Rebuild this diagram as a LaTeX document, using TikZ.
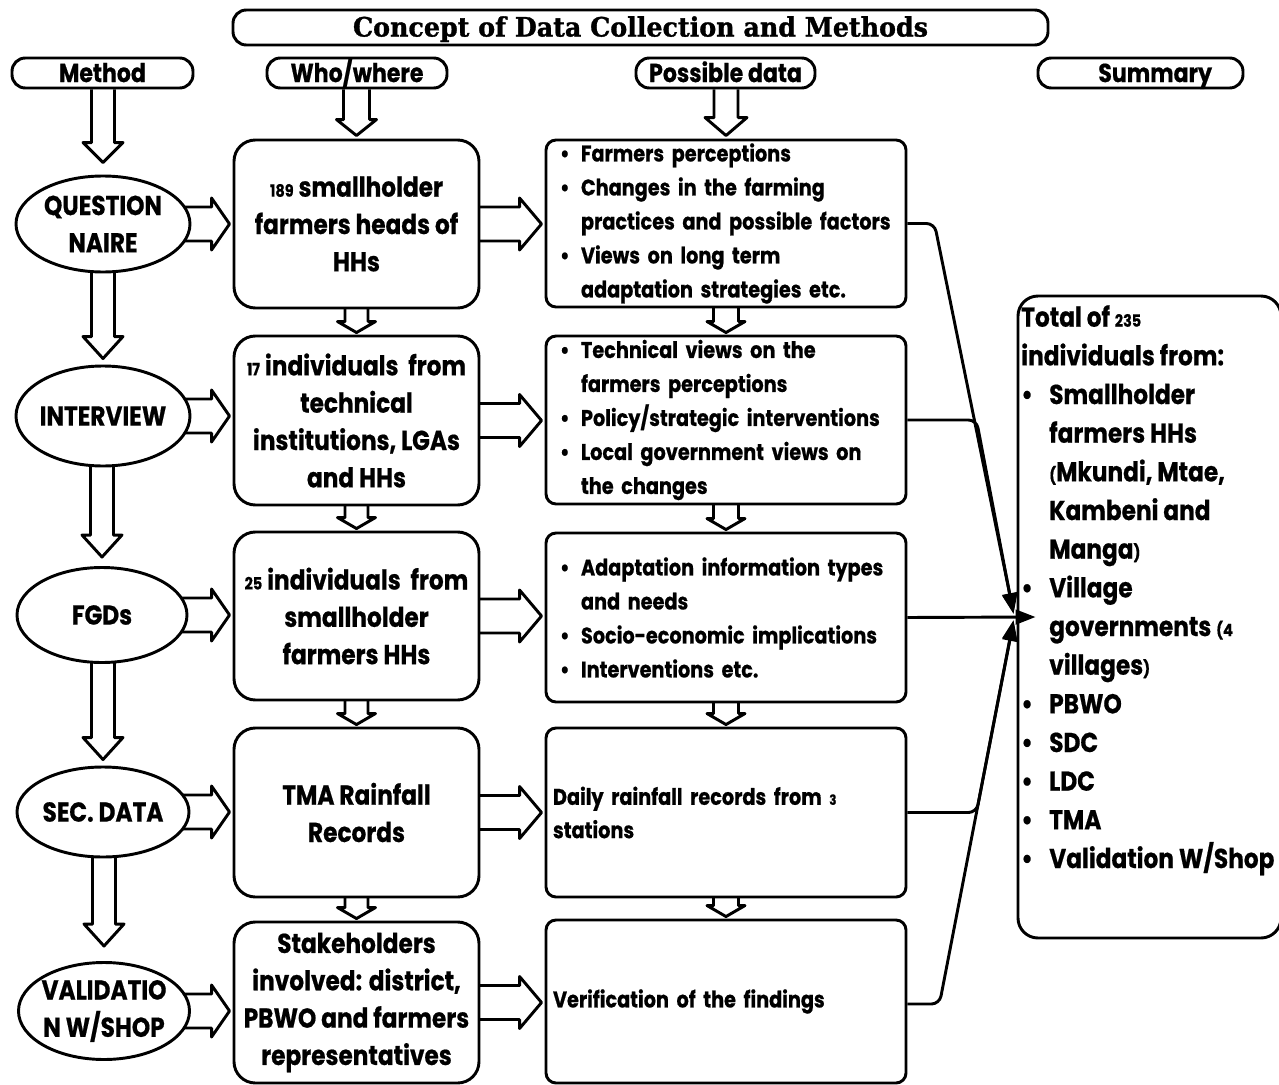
\documentclass[tikz,border=0pt]{standalone}
\usepackage{fontspec}
\usepackage{graphicx}
\usetikzlibrary{calc,arrows.meta,shapes.geometric,backgrounds}
\setmainfont{Poppins}[FakeStretch=0.85,BoldFeatures={FakeBold=0.6}]
\newfontfamily\condf{Poppins}[FakeStretch=0.85,BoldFeatures={FakeBold=0.6}]
\newfontfamily\slabf{DejaVu Serif}[FakeStretch=0.95,BoldFeatures={FakeBold=1.2}]
\newcommand\sm[1]{\scalebox{0.62}{#1}}
\newcommand\bul{\makebox[15.75pt][l]{•}}
\newcommand\ind{\hspace*{15.75pt}}
\newcommand\bulS{\makebox[21pt][l]{•}}
\newcommand\indS{\hspace*{21pt}}
\newcommand\vblk[5]{\draw[blk] let \p1=(#1), \p2=(#2) in (\x2-#3*0.75pt,\y1) -- (\x2-#3*0.75pt,\y2+#5*0.75pt) -- (\x2-#4*0.75pt,\y2+#5*0.75pt) -- (\x2,\y2) -- (\x2+#4*0.75pt,\y2+#5*0.75pt) -- (\x2+#3*0.75pt,\y2+#5*0.75pt) -- (\x2+#3*0.75pt,\y1);}
\newcommand\hblk[5]{\draw[blk] let \p1=(#1), \p2=(#2) in (\x1,\y1+#3*0.75pt) -- (\x2-#5*0.75pt,\y1+#3*0.75pt) -- (\x2-#5*0.75pt,\y1+#4*0.75pt) -- (\x2,\y1) -- (\x2-#5*0.75pt,\y1-#4*0.75pt) -- (\x2-#5*0.75pt,\y1-#3*0.75pt) -- (\x1,\y1-#3*0.75pt);}
\begin{document}
\begin{tikzpicture}[x=0.75pt,y=-0.75pt,
  lw/.style={line width=2.2pt},
  blk/.style={draw,lw,fill=white,line join=round},
  titlebox/.style={draw,lw,fill=white,rounded corners=10pt,inner sep=0pt,text height=15pt,text depth=1.5pt,font=\slabf\bfseries\fontsize{20}{22}\selectfont},
  hdr/.style={draw,lw,fill=white,rounded corners=10pt,minimum height=22.5pt,inner sep=0pt,text height=16pt,text depth=2.4pt,font=\bfseries\fontsize{19.5}{21}\selectfont},
  ell/.style={draw,lw,fill=white,ellipse,inner sep=0pt},
  elltxt/.style={align=center,inner sep=0pt,font=\bfseries\fontsize{20.5}{28}\selectfont},
  bbox/.style={draw,lw,fill=white,rounded corners=16pt,inner sep=0pt,align=center,minimum width=245*0.75pt,font=\bfseries\fontsize{20.5}{28}\selectfont},
  cbox/.style={draw,lw,fill=white,rounded corners=7.5pt,inner sep=0pt,align=left,minimum width=360*0.75pt,text width=332*0.75pt,font=\bfseries\fontsize{17}{25.5}\selectfont},
  conn/.style={lw,rounded corners=6pt,-{Triangle[length=15pt,width=11pt]}}
]
\useasboundingbox (0,0) rectangle (1279,1085);
% title and headers
\node[titlebox,minimum width=815*0.75pt,minimum height=35*0.75pt] (title) at (640.5,27.5) {Concept of Data Collection and Methods};
\node[hdr,minimum width=181*0.75pt] (hm) at (102.5,73) {Method};
\node[hdr,minimum width=180*0.75pt] (hw) at (357,73) {Who/where};
\node[hdr,minimum width=179*0.75pt] (hp) at (725.5,73) {Possible data};
\node[hdr,minimum width=205*0.75pt] (hs) at (1140.5,73) {\hspace*{22pt}Summary};
% ellipses
\node[ell,minimum width=174*0.75pt,minimum height=96*0.75pt] (e1) at (103,224) {};
\node[elltxt] (e1t) at (e1) {QUESTION\\NAIRE};
\node[ell,minimum width=174*0.75pt,minimum height=100*0.75pt] (e2) at (103,416) {};
\node[elltxt] (e2t) at (e2) {INTERVIEW};
\node[ell,minimum width=170*0.75pt,minimum height=95*0.75pt] (e3) at (102,615) {};
\node[elltxt] (e3t) at (e3) {FGDs};
\node[ell,minimum width=172*0.75pt,minimum height=90*0.75pt] (e4) at (103,812) {};
\node[elltxt] (e4t) at (e4) {SEC. DATA};
\node[ell,minimum width=171*0.75pt,minimum height=97*0.75pt] (e5) at (104,1011) {};
\node[elltxt] (e5t) at (e5) {VALIDATIO\\N W/SHOP};
% who/where boxes
\node[bbox,minimum height=168*0.75pt] (b1) at (356.5,224) {\sm{189} smallholder\\farmers heads of\\HHs};
\node[bbox,minimum height=169*0.75pt] (b2) at (356.5,420.5) {\sm{17} individuals\ \ from\\technical\\institutions, LGAs\\and HHs};
\node[bbox,minimum height=168*0.75pt] (b3) at (356.5,616) {\sm{25} individuals\ \ from\\smallholder\\farmers HHs};
\node[bbox,minimum height=169*0.75pt,font=\condf\bfseries\fontsize{20.5}{28}\selectfont] (b4) at (356.5,812.5) {TMA Rainfall\\Records};
\node[bbox,minimum height=161*0.75pt] (b5) at (356.5,1002.5) {Stakeholders\\involved: district,\\PBWO and farmers\\representatives};
% possible data boxes
\node[cbox,minimum height=167*0.75pt] (c1) at (726,223.5) {\bul Farmers perceptions\\\bul Changes in the farming\\\ind practices and possible factors\\\bul Views on long term\\\ind adaptation strategies etc.};
\node[cbox,minimum height=168*0.75pt] (c2) at (726,420) {\bul Technical views on the\\\ind farmers perceptions\\\bul Policy/strategic interventions\\\bul Local government views on\\\ind the changes};
\node[cbox,minimum height=169*0.75pt] (c3) at (726,617.5) {\bul Adaptation information types\\\ind and needs\\\bul Socio-economic implications\\\bul Interventions etc.};
\node[cbox,minimum height=169*0.75pt,text width=346*0.75pt,font=\condf\bfseries\fontsize{17}{25}\selectfont] (c4) at (726,812.5) {Daily rainfall records from \sm{3}\\stations};
\node[cbox,minimum height=163*0.75pt,text width=346*0.75pt,font=\condf\bfseries\fontsize{17}{25}\selectfont] (c5) at (726,1001.5) {Verification of the findings};
% summary
\node[draw,lw,fill=white,rounded corners=15pt,minimum width=263*0.75pt,minimum height=642*0.75pt,inner sep=0pt] (sum) at (1149.5,617) {};
\node[anchor=north west,align=left,inner sep=0pt,font=\bfseries\fontsize{20.5}{29}\selectfont] (sumt) at (1021,305) {Total of \sm{235}\\individuals from:\\\bulS Smallholder\\\indS farmers HHs\\\indS \sm{(}Mkundi, Mtae,\\\indS Kambeni and\\\indS Manga\sm{)}\\\bulS Village\\\indS governments \sm{(4}\\\indS villages\sm{)}\\\bulS PBWO\\\bulS SDC\\\bulS LDC\\\bulS TMA\\\bulS Validation W/Shop};
% block arrows
\begin{scope}[on background layer]
\vblk{hm.south}{$(e1.north)+(0,-12)$}{11.5}{20}{20}
\vblk{e1.center}{$(e2.north)+(0,-6)$}{11.5}{20}{22}
\vblk{e2.center}{$(e3.north)+(0,-9)$}{11.5}{20}{22}
\vblk{e3.center}{$(e4.north)+(0,-6)$}{11.5}{20}{22}
\vblk{e4.center}{$(e5.north)+(0,-15)$}{11.5}{20}{22}
\vblk{hw.south}{$(b1.north)+(0,-3)$}{13}{20}{16}
\vblk{b1.center}{$(b2.north)+(0,-2)$}{11.5}{19}{11}
\vblk{b2.center}{$(b3.north)+(0,-2)$}{11.5}{19}{11}
\vblk{b3.center}{$(b4.north)+(0,-2)$}{11.5}{19}{11}
\vblk{b4.center}{$(b5.north)+(0,-2)$}{11.5}{19}{11}
\vblk{hp.south}{$(c1.north)+(0,-3)$}{12}{21}{18}
\vblk{c1.center}{$(c2.north)+(0,-2)$}{12.5}{19}{11}
\vblk{c2.center}{$(c3.north)+(0,-2)$}{12.5}{19}{11}
\vblk{c3.center}{$(c4.north)+(0,-2)$}{12.5}{19}{11}
\vblk{c4.center}{$(c5.north)+(0,-2)$}{12.5}{19}{11}
\hblk{e1.center}{$(b1.west)+(-3,0)$}{17}{26}{18}
\hblk{e2.center}{$(b2.west)+(-3,0)$}{17}{26}{18}
\hblk{e3.center}{$(b3.west)+(-3,0)$}{17}{26}{18}
\hblk{e4.center}{$(b4.west)+(-3,0)$}{17}{26}{18}
\hblk{e5.center}{$(b5.west)+(-3,0)$}{17}{26}{18}
\hblk{b1.center}{$(c1.west)+(-3,0)$}{17}{26}{22}
\hblk{b2.center}{$(c2.west)+(-3,0)$}{17}{26}{22}
\hblk{b3.center}{$(c3.west)+(-3,0)$}{17}{26}{22}
\hblk{b4.center}{$(c4.west)+(-3,0)$}{17}{26}{22}
\hblk{b5.center}{$(c5.west)+(-3,0)$}{17}{26}{22}
\end{scope}
% connectors to summary
\draw[conn] (c1.east) -- ++(27,0) -- ($(sum.west)+(-3,-4)$);
\draw[conn] (c2.east) -- ++(69,0) -- ($(sum.west)+(-3,-3)$);
\draw[conn] (c3.east) -- ($(sum.west)+(19,0)$);
\draw[conn] (c4.east) -- ++(69,0) -- ($(sum.west)+(-3,3)$);
\draw[conn] ($(c5.east)+(0,2.5)$) -- ++(32,0) -- ($(sum.west)+(-3,4)$);
\end{tikzpicture}
\end{document}
